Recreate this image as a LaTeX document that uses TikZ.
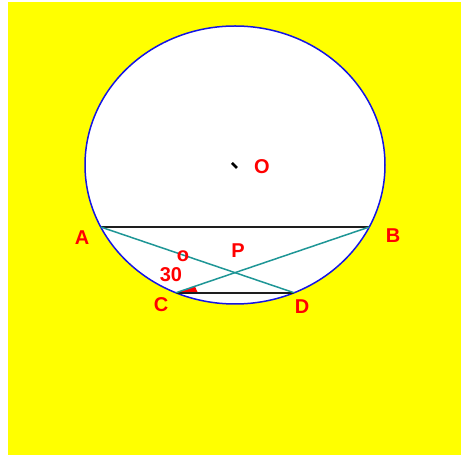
\documentclass[tikz,border=0pt]{standalone}
\usepackage{fontspec}
\setmainfont{Liberation Sans}
\usetikzlibrary{calc}
\definecolor{cBack}{RGB}{255, 255, 0}
\definecolor{bCircle}{RGB}{20, 20, 230}
\definecolor{cTeal}{RGB}{30, 150, 150}
\definecolor{tRed}{RGB}{255, 0, 0}
\definecolor{tDark}{RGB}{30, 30, 30}

\begin{document}
\begin{tikzpicture}[
    x=1pt, y=1pt,
    font=\bfseries\fontsize{20}{20}\selectfont,
    lbl/.style={text=tRed, inner sep=0pt},
    chord/.style={draw=tDark, line width=2pt},
    cross/.style={draw=cTeal, line width=1.5pt}
]

\useasboundingbox (0,0) rectangle (461,455);
\fill[cBack] (8,0) rectangle (461,453);

% circle and points on it
\coordinate (O) at (235,290);
\draw[bCircle, line width=1.5pt, fill=white] (O) ellipse [x radius=150, y radius=139];

\coordinate (A) at ($(O)+(206.5:150 and 139)$);
\coordinate (B) at ($(O)+(333.5:150 and 139)$);
\coordinate (C) at ($(O)+(246.8:150 and 139)$);
\coordinate (D) at ($(O)+(293.2:150 and 139)$);
\coordinate (P) at (intersection of A--D and B--C);

% angle mark at C
\fill[tRed] (C) -- ($(C)!22pt!(D)$) -- ($(C)!20pt!(B)$) -- cycle;

\draw[chord] (A) -- (B);
\draw[chord] (C) -- (D);
\draw[cross] (A) -- (D);
\draw[cross] (B) -- (C);

% centre mark
\draw[line width=2.8pt] ($(O)+(-3,2)$) -- ($(O)+(2,-3)$);

\node[lbl] (lO) at (262,288) {O};
\node[lbl] (lA) at (82,217) {A};
\node[lbl] (lB) at (393,219) {B};
\node[lbl] (lP) at (238,204) {P};
\node[lbl] (lC) at (161,150) {C};
\node[lbl] (lD) at (302,148) {D};
\node[lbl] (ldeg) at (183,199) {o};
\node[lbl] (l30) at (171,180) {30};

\end{tikzpicture}
\end{document}
